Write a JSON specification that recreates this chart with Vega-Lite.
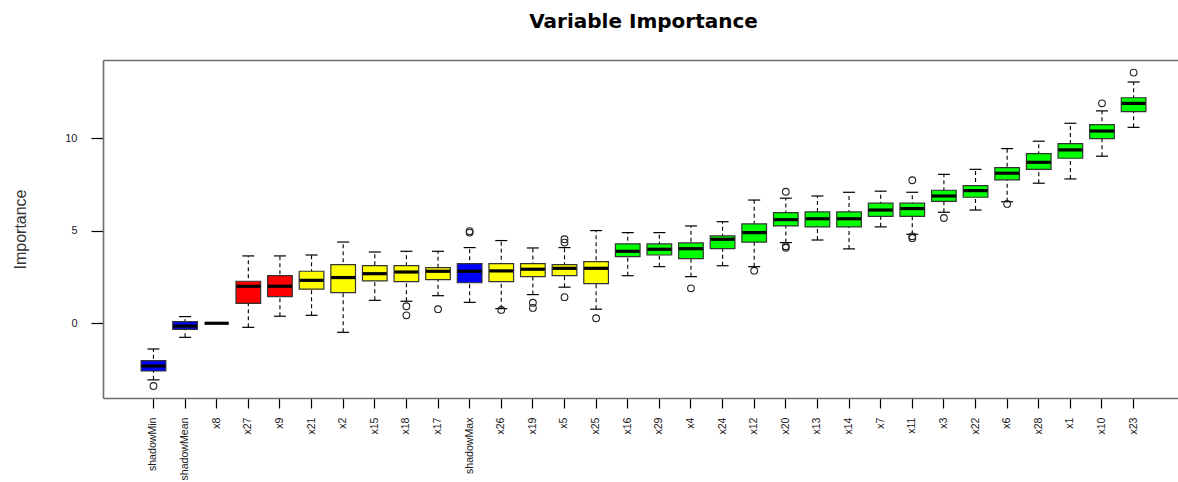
{
  "$schema": "https://vega.github.io/schema/vega-lite/v6.json",
  "width": 1075,
  "height": 338,
  "autosize": {"type": "none"},
  "padding": {"left": 103, "top": 60, "right": 0, "bottom": 84},
  "background": "white",
  "config": {"view": {"stroke": null}, "font": "Liberation Sans"},
  "title": {"text": "Variable Importance", "font": "DejaVu Sans", "fontSize": 20, "fontWeight": "bold", "color": "#000000", "anchor": "middle", "offset": 28, "dx": 3},
  "datasets": {
    "boxes": [
      {"name": "shadowMin", "cat": "Shadow", "lo": -3.06, "q1": -2.58, "med": -2.31, "q3": -2.02, "hi": -1.39},
      {"name": "shadowMean", "cat": "Shadow", "lo": -0.76, "q1": -0.33, "med": -0.15, "q3": 0.09, "hi": 0.36},
      {"name": "x8", "cat": "Rejected", "lo": 0, "q1": 0, "med": 0, "q3": 0, "hi": 0},
      {"name": "x27", "cat": "Rejected", "lo": -0.22, "q1": 1.08, "med": 2.0, "q3": 2.27, "hi": 3.64},
      {"name": "x9", "cat": "Rejected", "lo": 0.38, "q1": 1.44, "med": 2.0, "q3": 2.57, "hi": 3.64},
      {"name": "x21", "cat": "Tentative", "lo": 0.43, "q1": 1.84, "med": 2.32, "q3": 2.81, "hi": 3.69},
      {"name": "x2", "cat": "Tentative", "lo": -0.49, "q1": 1.66, "med": 2.47, "q3": 3.17, "hi": 4.39},
      {"name": "x15", "cat": "Tentative", "lo": 1.24, "q1": 2.29, "med": 2.68, "q3": 3.11, "hi": 3.85},
      {"name": "x18", "cat": "Tentative", "lo": 1.19, "q1": 2.25, "med": 2.77, "q3": 3.11, "hi": 3.89},
      {"name": "x17", "cat": "Tentative", "lo": 1.49, "q1": 2.36, "med": 2.81, "q3": 3.01, "hi": 3.89},
      {"name": "shadowMax", "cat": "Shadow", "lo": 1.13, "q1": 2.19, "med": 2.81, "q3": 3.22, "hi": 4.09},
      {"name": "x26", "cat": "Tentative", "lo": 0.79, "q1": 2.25, "med": 2.83, "q3": 3.22, "hi": 4.47},
      {"name": "x19", "cat": "Tentative", "lo": 1.55, "q1": 2.52, "med": 2.92, "q3": 3.22, "hi": 4.07},
      {"name": "x5", "cat": "Tentative", "lo": 1.95, "q1": 2.57, "med": 2.97, "q3": 3.17, "hi": 4.09},
      {"name": "x25", "cat": "Tentative", "lo": 0.76, "q1": 2.14, "med": 2.97, "q3": 3.33, "hi": 5.01},
      {"name": "x16", "cat": "Confirmed", "lo": 2.57, "q1": 3.6, "med": 3.89, "q3": 4.29, "hi": 4.9},
      {"name": "x29", "cat": "Confirmed", "lo": 3.06, "q1": 3.69, "med": 4.0, "q3": 4.29, "hi": 4.9},
      {"name": "x4", "cat": "Confirmed", "lo": 2.52, "q1": 3.49, "med": 4.03, "q3": 4.34, "hi": 5.26},
      {"name": "x24", "cat": "Confirmed", "lo": 3.11, "q1": 4.03, "med": 4.54, "q3": 4.72, "hi": 5.49},
      {"name": "x12", "cat": "Confirmed", "lo": 3.06, "q1": 4.39, "med": 4.9, "q3": 5.37, "hi": 6.66},
      {"name": "x20", "cat": "Confirmed", "lo": 4.36, "q1": 5.26, "med": 5.6, "q3": 5.98, "hi": 6.76},
      {"name": "x13", "cat": "Confirmed", "lo": 4.5, "q1": 5.21, "med": 5.65, "q3": 6.02, "hi": 6.88},
      {"name": "x14", "cat": "Confirmed", "lo": 4.02, "q1": 5.21, "med": 5.65, "q3": 6.02, "hi": 7.08},
      {"name": "x7", "cat": "Confirmed", "lo": 5.21, "q1": 5.78, "med": 6.12, "q3": 6.49, "hi": 7.14},
      {"name": "x11", "cat": "Confirmed", "lo": 4.81, "q1": 5.78, "med": 6.2, "q3": 6.49, "hi": 7.08},
      {"name": "x3", "cat": "Confirmed", "lo": 6.0, "q1": 6.59, "med": 6.88, "q3": 7.19, "hi": 8.05},
      {"name": "x22", "cat": "Confirmed", "lo": 6.12, "q1": 6.81, "med": 7.17, "q3": 7.44, "hi": 8.32},
      {"name": "x6", "cat": "Confirmed", "lo": 6.57, "q1": 7.75, "med": 8.11, "q3": 8.41, "hi": 9.44},
      {"name": "x28", "cat": "Confirmed", "lo": 7.57, "q1": 8.32, "med": 8.7, "q3": 9.17, "hi": 9.84},
      {"name": "x1", "cat": "Confirmed", "lo": 7.8, "q1": 8.92, "med": 9.37, "q3": 9.71, "hi": 10.81},
      {"name": "x10", "cat": "Confirmed", "lo": 9.03, "q1": 9.98, "med": 10.39, "q3": 10.74, "hi": 11.48},
      {"name": "x23", "cat": "Confirmed", "lo": 10.59, "q1": 11.44, "med": 11.89, "q3": 12.19, "hi": 13.04}
    ],
    "outliers": [
      {"name": "shadowMin", "v": -3.39},
      {"name": "shadowMax", "v": 4.9},
      {"name": "shadowMax", "v": 4.98},
      {"name": "x18", "v": 0.92},
      {"name": "x18", "v": 0.43},
      {"name": "x17", "v": 0.76},
      {"name": "x26", "v": 0.72},
      {"name": "x19", "v": 1.11},
      {"name": "x19", "v": 0.83},
      {"name": "x5", "v": 1.41},
      {"name": "x5", "v": 4.36},
      {"name": "x5", "v": 4.54},
      {"name": "x25", "v": 0.27},
      {"name": "x4", "v": 1.89},
      {"name": "x12", "v": 2.84},
      {"name": "x20", "v": 7.11},
      {"name": "x20", "v": 4.08},
      {"name": "x20", "v": 4.16},
      {"name": "x11", "v": 7.73},
      {"name": "x11", "v": 4.6},
      {"name": "x11", "v": 4.7},
      {"name": "x3", "v": 5.69},
      {"name": "x6", "v": 6.45},
      {"name": "x10", "v": 11.89},
      {"name": "x23", "v": 13.55}
    ]
  },
  "resolve": {"axis": {"x": "independent", "y": "independent"}},
  "layer": [
    {
      "data": {"name": "boxes"},
      "mark": {"type": "rule", "color": "#000000", "strokeWidth": 1.1, "strokeDash": [4, 3], "opacity": 1},
      "encoding": {
        "x": {"field": "name", "type": "nominal", "sort": null,
          "scale": {"paddingInner": 0, "paddingOuter": 1.161, "align": 0.548},
          "axis": {"orient": "bottom", "title": null, "labelAngle": -90, "labelFontSize": 10.6, "labelColor": "#1a1a1a", "labelFont": "Liberation Sans",
            "tickSize": 10, "tickColor": "#000000", "tickWidth": 1.2, "labelPadding": 9, "domainColor": "#6e6e6e", "domainWidth": 1.6, "grid": false}},
        "y": {"field": "lo", "type": "quantitative",
          "scale": {"domain": [-4.04, 14.23], "nice": false, "zero": false},
          "axis": {"values": [0, 5, 10], "title": "Importance", "titleFont": "Liberation Sans", "titleFontSize": 16, "titleFontWeight": "normal", "titleColor": "#333333",
            "titleAngle": -90, "titleX": -83, "titleY": 169, "titleBaseline": "middle", "titleAlign": "center",
            "labelFontSize": 11, "labelColor": "#1a1a2e", "labelPadding": 14, "tickSize": 12, "tickColor": "#000000", "tickWidth": 1.2,
            "domainColor": "#6e6e6e", "domainWidth": 1.6, "grid": false}},
        "y2": {"field": "hi"}
      }
    },
    {
      "data": {"name": "boxes"},
      "mark": {"type": "tick", "color": "#000000", "thickness": 1.2, "size": 12, "opacity": 1},
      "encoding": {
        "x": {"field": "name", "type": "nominal", "sort": null, "axis": {"orient": "top", "labels": false, "ticks": false, "title": null, "domainColor": "#6e6e6e", "domainWidth": 1.6, "grid": false}},
        "y": {"field": "hi", "type": "quantitative", "axis": null}
      }
    },
    {
      "data": {"name": "boxes"},
      "mark": {"type": "tick", "color": "#000000", "thickness": 1.2, "size": 12, "opacity": 1},
      "encoding": {
        "x": {"field": "name", "type": "nominal", "sort": null, "axis": null},
        "y": {"field": "lo", "type": "quantitative", "axis": null}
      }
    },
    {
      "data": {"name": "boxes"},
      "mark": {"type": "bar", "width": {"band": 0.78}, "stroke": "#333333", "strokeWidth": 1.2, "opacity": 1},
      "encoding": {
        "x": {"field": "name", "type": "nominal", "sort": null, "axis": null},
        "y": {"field": "q1", "type": "quantitative", "axis": null},
        "y2": {"field": "q3"},
        "color": {"field": "cat", "type": "nominal", "legend": null,
          "scale": {"domain": ["Shadow", "Rejected", "Tentative", "Confirmed"], "range": ["#0000ff", "#ff0000", "#ffff00", "#00ff00"]}}
      }
    },
    {
      "data": {"name": "boxes"},
      "mark": {"type": "tick", "color": "#000000", "thickness": 3.2, "size": 24, "opacity": 1},
      "encoding": {
        "x": {"field": "name", "type": "nominal", "sort": null, "axis": null},
        "y": {"field": "med", "type": "quantitative", "axis": null}
      }
    },
    {
      "data": {"name": "outliers"},
      "mark": {"type": "point", "shape": "circle", "filled": false, "size": 45, "stroke": "#222222", "strokeWidth": 1.1, "opacity": 1},
      "encoding": {
        "x": {"field": "name", "type": "nominal", "sort": null, "axis": null},
        "y": {"field": "v", "type": "quantitative", "axis": null}
      }
    }
  ]
}
